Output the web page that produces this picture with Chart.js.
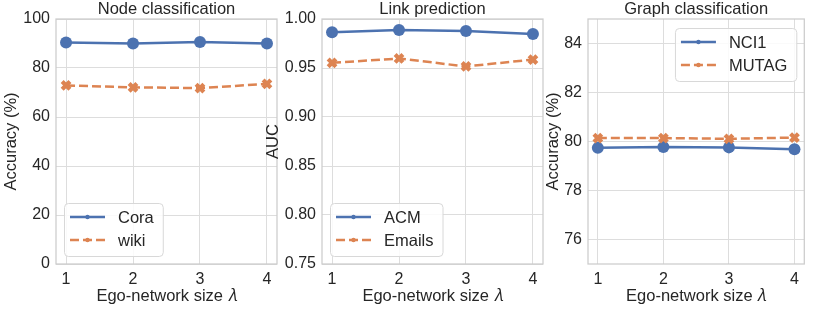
<!DOCTYPE html>
<html>
<head>
<meta charset="utf-8">
<script src="https://cdn.jsdelivr.net/npm/chart.js@4.4.0/dist/chart.umd.min.js"></script>
<style>
  html, body { margin: 0; padding: 0; background: #fff; }
  #wrap { position: relative; width: 814px; height: 309px; }
  #wrap canvas { position: absolute; left: 0; top: 0; }
</style>
</head>
<body>
<div id="wrap">
  <canvas id="node" width="814" height="309"></canvas>
  <canvas id="link" width="814" height="309"></canvas>
  <canvas id="graph" width="814" height="309"></canvas>
</div>
<script>
// --- data ---
const egoSizes = [1, 2, 3, 4];

const coraAcc = [90.4, 90.0, 90.6, 90.0];
const wikiAcc = [72.9, 72.1, 71.8, 73.5];

const acmAuc = [0.9865, 0.9888, 0.9878, 0.9848];
const emailsAuc = [0.9553, 0.9597, 0.9516, 0.9586];

const nci1Acc = [79.74, 79.78, 79.76, 79.68];
const mutagAcc = [80.14, 80.14, 80.11, 80.16];

const nodeTicks = [0, 20, 40, 60, 80, 100];
const linkTicks = [0.75, 0.80, 0.85, 0.90, 0.95, 1.00];
const graphTicks = [76, 78, 80, 82, 84];

// --- style ---
const ink = '#262626';
const gridCol = '#dddddd';
const blue = '#4c72b0';
const orange = '#dd8452';
const family = '"Liberation Sans", Arial, sans-serif';

// outer frame on all four sides (seaborn whitegrid spines)
const framePlugin = {
    id: 'frame',
    beforeDatasetsDraw(chart) {
        const { ctx, chartArea: a } = chart;
        ctx.save();
        ctx.strokeStyle = '#cccccc';
        ctx.lineWidth = 1.25;
        ctx.strokeRect(a.left, a.top, a.right - a.left, a.bottom - a.top);
        ctx.restore();
    }
};

// legend drawn inside the plot with a framed box
const boxLegend = {
    id: 'boxLegend',
    afterDatasetsDraw(chart, args, opts) {
        const { ctx, chartArea: a } = chart;
        const ds = chart.data.datasets;
        ctx.save();
        ctx.font = '16.5px ' + family;
        const tw = Math.max(...ds.map(d => ctx.measureText(d.label).width));
        const w = 54 + tw + 9, h = 53;
        const x = opts.corner === 'upperRight' ? a.right - 8 - w : a.left + 8;
        const y = opts.corner === 'upperRight' ? a.top + 9 : a.bottom - 8 - h;

        ctx.beginPath();
        ctx.roundRect(x + 0.5, y + 0.5, w, h, 4);
        ctx.fillStyle = 'rgba(255,255,255,0.85)';
        ctx.fill();
        ctx.strokeStyle = '#d8d8d8';
        ctx.lineWidth = 1;
        ctx.stroke();

        ds.forEach((d, i) => {
            const cy = y + 14 + i * 23;
            ctx.beginPath();
            ctx.setLineDash(d.borderDash || []);
            ctx.strokeStyle = d.borderColor;
            ctx.lineWidth = 2.5;
            ctx.moveTo(x + 6, cy);
            ctx.lineTo(x + 41, cy);
            ctx.stroke();
            ctx.setLineDash([]);
            ctx.beginPath();
            ctx.arc(x + 23.5, cy, 2.2, 0, Math.PI * 2);
            ctx.fillStyle = d.borderColor;
            ctx.fill();
            ctx.fillStyle = ink;
            ctx.textBaseline = 'middle';
            ctx.fillText(d.label, x + 54, cy + 1);
        });
        ctx.restore();
    }
};

function makePanel(id, cfg) {
    const toPoints = vals => egoSizes.map((x, i) => ({ x: x, y: vals[i] }));
    return new Chart(document.getElementById(id), {
        type: 'line',
        data: {
            datasets: [
                {
                    label: cfg.names[0],
                    data: toPoints(cfg.first),
                    order: 1,
                    borderColor: blue,
                    backgroundColor: blue,
                    borderWidth: 2.5,
                    pointStyle: 'circle',
                    pointRadius: 6,
                    pointBackgroundColor: blue,
                    pointBorderWidth: 0
                },
                {
                    label: cfg.names[1],
                    data: toPoints(cfg.second),
                    order: 0,
                    borderColor: orange,
                    backgroundColor: orange,
                    borderWidth: 2.5,
                    borderDash: [9, 4],
                    pointStyle: 'crossRot',
                    pointRadius: 5.5,
                    pointBorderColor: orange,
                    pointBorderWidth: 4.2
                }
            ]
        },
        options: {
            responsive: false,
            animation: false,
            layout: { padding: { left: cfg.left, right: cfg.right, top: 0, bottom: 0 } },
            plugins: {
                legend: { display: false },
                tooltip: { enabled: false },
                title: {
                    display: true,
                    text: cfg.title,
                    fullSize: false,
                    color: ink,
                    padding: 0,
                    font: { family: family, size: 16.5, weight: 'normal', lineHeight: 19 / 16.5 }
                },
                boxLegend: { corner: cfg.corner }
            },
            scales: {
                x: {
                    type: 'linear',
                    min: 0.85,
                    max: 4.15,
                    afterBuildTicks: s => { s.ticks = egoSizes.map(v => ({ value: v })); },
                    afterFit: s => { s.height = 45; },
                    grid: { color: gridCol, drawTicks: false },
                    border: { display: false },
                    ticks: { padding: 6, color: ink, font: { family: family, size: 16 } },
                    title: {
                        display: true,
                        text: 'Ego-network size 𝜆',
                        color: ink,
                        padding: { top: 0, bottom: 3 },
                        font: { family: family, size: 16.5 }
                    }
                },
                y: {
                    min: cfg.min,
                    max: cfg.max,
                    afterBuildTicks: s => { s.ticks = cfg.ticks.map(v => ({ value: v })); },
                    afterFit: s => { s.width = cfg.yWidth; },
                    grid: { color: gridCol, drawTicks: false },
                    border: { display: false },
                    ticks: { padding: 6, color: ink, font: { family: family, size: 16 }, callback: cfg.fmt },
                    title: {
                        display: true,
                        text: cfg.yLabel,
                        color: ink,
                        padding: { top: cfg.yTitlePad, bottom: 0 },
                        font: { family: family, size: 16.5 }
                    }
                }
            }
        },
        plugins: [framePlugin, boxLegend]
    });
}

makePanel('node', {
    title: 'Node classification',
    names: ['Cora', 'wiki'],
    first: coraAcc,
    second: wikiAcc,
    ticks: nodeTicks,
    min: 0, max: 100,
    fmt: v => v,
    yLabel: 'Accuracy (%)',
    left: 0, right: 537, yWidth: 56, yTitlePad: 1.5,
    corner: 'lowerLeft'
});

makePanel('link', {
    title: 'Link prediction',
    names: ['ACM', 'Emails'],
    first: acmAuc,
    second: emailsAuc,
    ticks: linkTicks,
    min: 0.75, max: 1.0,
    fmt: v => v.toFixed(2),
    yLabel: 'AUC',
    left: 262, right: 271, yWidth: 60, yTitlePad: 2,
    corner: 'lowerLeft'
});

makePanel('graph', {
    title: 'Graph classification',
    names: ['NCI1', 'MUTAG'],
    first: nci1Acc,
    second: mutagAcc,
    ticks: graphTicks,
    min: 75, max: 85,
    fmt: v => v,
    yLabel: 'Accuracy (%)',
    left: 541, right: 5, yWidth: 47, yTitlePad: 2.5,
    corner: 'upperRight'
});
</script>
</body>
</html>
